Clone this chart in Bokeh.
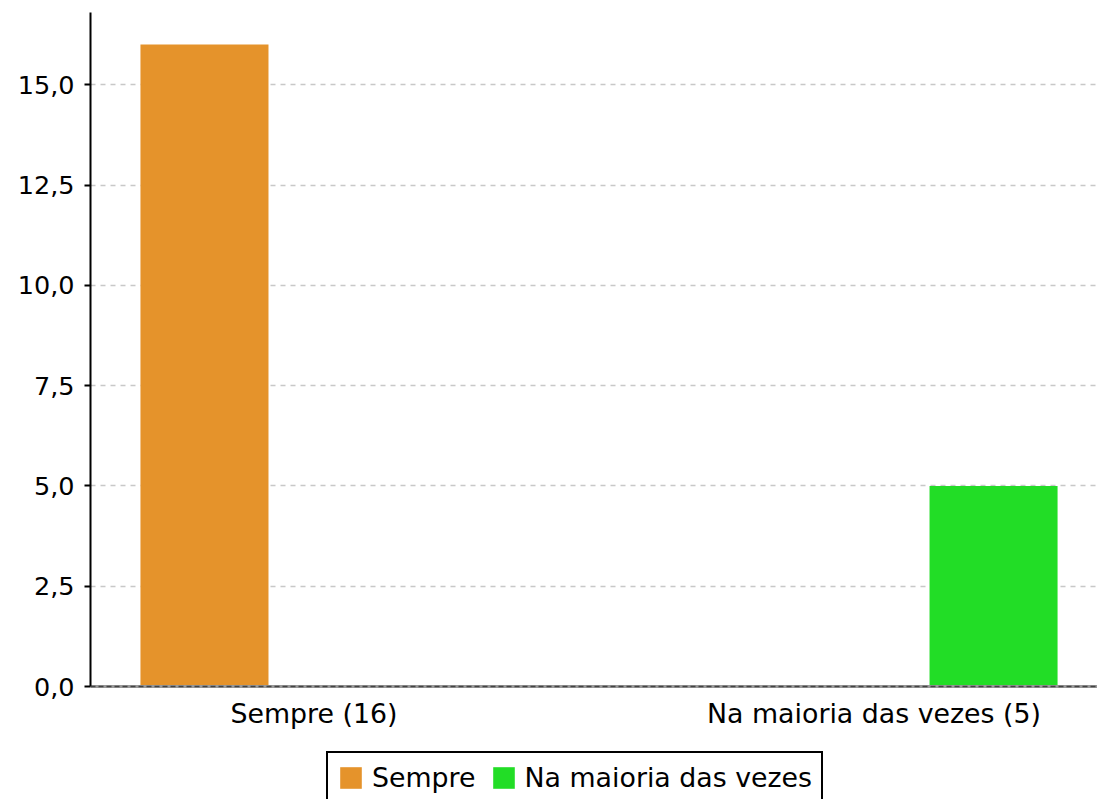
from bokeh.plotting import figure
from bokeh.models import (FactorRange, Range1d, ColumnDataSource, FixedTicker,
                          CustomJSTickFormatter, Legend, LegendItem, Span)
from bokeh.transform import dodge
from bokeh.embed import file_html
from bokeh.resources import INLINE

categories = ["Sempre (16)", "Na maioria das vezes (5)"]
series_names = ["Sempre", "Na maioria das vezes"]
sempre_values = [16, 0]
maioria_values = [0, 5]
series_colors = ["#E5932B", "#22DD26"]
y_ticks = [0, 2.5, 5.0, 7.5, 10.0, 12.5, 15.0]
y_max = 16.8

FONT = "DejaVu Sans"

# layout (pixels)
FRAME_TOP = 12
AXIS_BOTTOM = 686
FIG_H = 799
FRAME_H = FIG_H - FRAME_TOP
px_per_unit = (AXIS_BOTTOM - FRAME_TOP) / y_max
y_min = -(FIG_H - AXIS_BOTTOM) / px_per_unit   # room below the axis for labels + legend

source = ColumnDataSource(dict(cat=categories, sempre=sempre_values, maioria=maioria_values))

p = figure(
    x_range=FactorRange(*categories, range_padding=-0.101, range_padding_units="absolute"),
    y_range=Range1d(y_min, y_max),
    frame_width=1007, frame_height=FRAME_H,
    output_backend="svg", toolbar_location=None,
    min_border_left=90, min_border_right=0, min_border_top=FRAME_TOP, min_border_bottom=0,
)
p.outline_line_color = None
p.background_fill_color = "white"
p.border_fill_color = "white"

r1 = p.vbar(x=dodge("cat", -0.1955, range=p.x_range), top="sempre", width=0.2286,
            source=source, fill_color=series_colors[0], line_color=None)
r2 = p.vbar(x=dodge("cat", 0.2134, range=p.x_range), top="maioria", width=0.2286,
            source=source, fill_color=series_colors[1], line_color=None)

# grids
p.xgrid.grid_line_color = None
p.ygrid.ticker = FixedTicker(ticks=y_ticks)
p.ygrid.grid_line_color = "#c8c8c8"
p.ygrid.grid_line_dash = "5 5"
p.ygrid.grid_line_width = 1.5

# y axis
p.yaxis.ticker = FixedTicker(ticks=y_ticks)
p.yaxis.bounds = (0, y_max)
p.yaxis.formatter = CustomJSTickFormatter(code="return tick.toFixed(1).replace('.', ',');")
p.yaxis.axis_line_color = "black"
p.yaxis.axis_line_width = 2
p.yaxis.major_tick_line_color = "black"
p.yaxis.major_tick_line_width = 2
p.yaxis.major_tick_out = 6
p.yaxis.major_tick_in = 0
p.yaxis.minor_tick_line_color = None
p.yaxis.major_label_text_font = FONT
p.yaxis.major_label_text_font_size = "25.5px"
p.yaxis.major_label_text_color = "black"
p.yaxis.major_label_standoff = 10

# x axis, pinned at y = 0
p.xaxis.fixed_location = 0
p.xaxis.axis_line_color = "#999999"
p.xaxis.axis_line_width = 3
p.xaxis.major_tick_line_color = None
p.xaxis.minor_tick_line_color = None
p.xaxis.major_label_text_font = FONT
p.xaxis.major_label_text_font_size = "26.8px"
p.xaxis.major_label_text_color = "black"
p.xaxis.major_label_standoff = 5

zero = Span(location=0, dimension="width", line_color="#444444", line_dash="5 3",
            line_width=1.5, level="overlay")
p.add_layout(zero)

legend = Legend(
    items=[LegendItem(label=series_names[0], renderers=[r1]),
           LegendItem(label=series_names[1], renderers=[r2])],
    orientation="horizontal", location=(236, -5),
    border_line_color="black", border_line_width=2, border_line_alpha=1.0,
    background_fill_color="white", background_fill_alpha=1.0,
    label_text_font=FONT, label_text_font_size="26.8px", label_text_color="black",
    glyph_width=27, glyph_height=27, spacing=14, padding=9, margin=0,
    label_standoff=8,
)
p.add_layout(legend, "center")

open("out.html", "w").write(file_html(p, INLINE))
